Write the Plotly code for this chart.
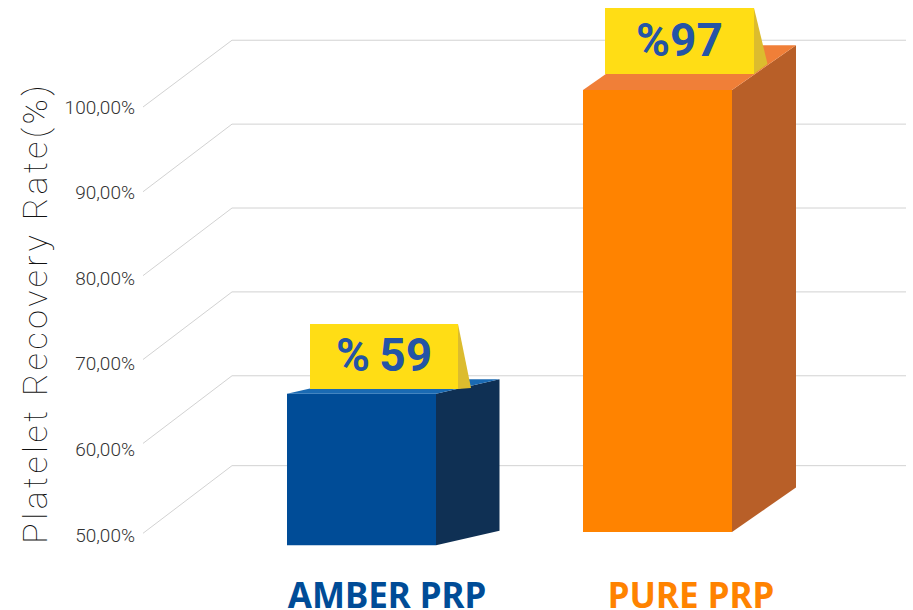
import plotly.graph_objects as go

# ---- data ----
categories = ["AMBER PRP", "PURE PRP"]
recovery_labels = ["%\u200959", "%97"]
bar_tops = [66.5, 102.0]
bar_bases = [48.8, 50.35]
tick_values = [50, 60, 70, 80, 90, 100]
tick_labels = ["50,00%", "60,00%", "70,00%", "80,00%", "90,00%", "100,00%"]
wall_front_levels = [50.2, 60.7, 70.5, 80.3, 90.1, 100.0]
wall_back_levels = [58.1, 68.6, 78.4, 88.2, 98.0, 107.8]

# ---- geometry / style ----
W, H = 913, 610
ML, MB = 140, 50
PX_PER_UNIT = 8.56
Y0_PX = 535
def val_at(px):
    return 50 + (Y0_PX - px) / PX_PER_UNIT

bar_centers = [361.5, 657.5]
bar_width = 149
depth_x = [63.5, 64]
depth_y = [1.7, 5.2]
front_cols = ["#004c97", "#ff8300"]
side_cols = ["#0f3054", "#b85f28"]
top_cols = ["#1a6ab3", "#f07f38"]
label_x = [387, 691]
flag_left = [310, 605]
flag_right = [458, 754]
flag_top = [val_at(324), val_at(8)]
flag_bottom = [val_at(389), val_at(74)]
flag_tip = [(471, val_at(388)), (767.5, val_at(64))]
YELLOW, YELLOW_SIDE, BLUE_TXT = "#ffdd15", "#dcbc2e", "#2454a6"

fig = go.Figure()


def poly(xs, ys, color):
    fig.add_trace(go.Scatter(x=xs + xs[:1], y=ys + ys[:1], mode="lines", fill="toself",
                             fillcolor=color, line=dict(width=0, color=color),
                             hoverinfo="skip", showlegend=False))


fig.add_trace(go.Bar(x=bar_centers, y=[t - b for t, b in zip(bar_tops, bar_bases)],
                     base=bar_bases, width=bar_width,
                     marker=dict(color=front_cols, line=dict(width=0)),
                     showlegend=False, hoverinfo="skip"))

for i in range(len(categories)):
    xl = bar_centers[i] - bar_width / 2
    xr = bar_centers[i] + bar_width / 2
    t, b = bar_tops[i], bar_bases[i]
    dx, dy = depth_x[i], depth_y[i]
    poly([xr, xr + dx, xr + dx, xr], [t, t + dy, b + dy, b], side_cols[i])
    poly([xl, xr, xr + dx, xl + dx], [t, t, t + dy, t + dy], top_cols[i])
    poly([flag_left[i], flag_right[i], flag_right[i], flag_left[i]],
         [flag_bottom[i], flag_bottom[i], flag_top[i], flag_top[i]], YELLOW)
    poly([flag_right[i], flag_tip[i][0], flag_right[i]],
         [flag_top[i], flag_tip[i][1], flag_bottom[i]], YELLOW_SIDE)

fig.add_trace(go.Scatter(
    x=[(l + r) / 2 for l, r in zip(flag_left, flag_right)],
    y=[(t + b) / 2 - 0.4 for t, b in zip(flag_top, flag_bottom)],
    text=recovery_labels, mode="text", textposition="middle center",
    textfont=dict(family="Roboto", size=46, color=BLUE_TXT, weight=700),
    hoverinfo="skip", showlegend=False))

shapes = []
for f, b in zip(wall_front_levels, wall_back_levels):
    shapes.append(dict(type="line", layer="below", xref="x", yref="y", x0=143, x1=232, y0=f, y1=b,
                       line=dict(color="#d2d2d2", width=1)))
    shapes.append(dict(type="line", layer="below", xref="x", yref="y", x0=232, x1=906, y0=b, y1=b,
                       line=dict(color="#d2d2d2", width=1)))

ticktext = [f"<span style='color:{c}'><b>{n}</b></span>" for n, c in zip(categories, front_cols)]

fig.update_layout(
    width=W, height=H, autosize=False,
    margin=dict(l=ML, r=0, t=0, b=MB, pad=0, autoexpand=False),
    paper_bgcolor="white", plot_bgcolor="white",
    shapes=shapes, showlegend=False,
    xaxis=dict(range=[ML, W], tickmode="array", tickvals=label_x, ticktext=ticktext,
               showgrid=False, zeroline=False, showline=False, automargin=False,
               ticks="outside", ticklen=5, tickcolor="rgba(0,0,0,0)",
               tickfont=dict(family="Noto Sans", size=35)),
    yaxis=dict(range=[val_at(H - MB), val_at(0)], tickmode="array", tickvals=tick_values,
               ticktext=tick_labels, showgrid=False, zeroline=False, showline=False,
               ticks="", automargin=False, ticklabelstandoff=4,
               tickfont=dict(family="Roboto", size=19, color="#333333", weight=300)),
    annotations=[dict(text="Platelet Recovery Rate(%)", xref="paper", yref="paper",
                      x=-ML / (W - ML) + 35 / (W - ML), y=(H - MB - 313) / (H - MB),
                      xanchor="center", yanchor="middle", textangle=-90, showarrow=False,
                      font=dict(family="Roboto", size=34, color="#111111", weight=100))],
)

post = """
document.body.style.margin = '0';
document.querySelectorAll('.annotation-text').forEach(function (e) { e.style.letterSpacing = '3.5px'; });
"""
fig.write_html("out.html", config=dict(displayModeBar=False), post_script=post)
